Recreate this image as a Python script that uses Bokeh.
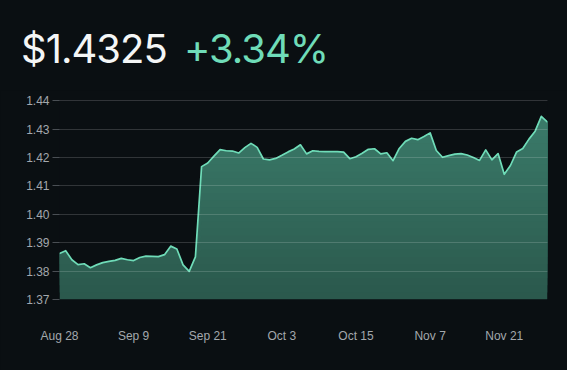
import numpy as np
from bokeh.plotting import figure
from bokeh.layouts import column
from bokeh.models import FixedTicker, Range1d, CustomJSTickFormatter, Div
from bokeh.embed import file_html
from bokeh.resources import INLINE

# ---- data ----
prices = [
    1.3862, 1.3872, 1.3840, 1.3823, 1.3826, 1.3812, 1.3822, 1.3830, 1.3834, 1.3838,
    1.3845, 1.3840, 1.3837, 1.3848, 1.3853, 1.3852, 1.3851, 1.3858, 1.3888, 1.3878,
    1.3822, 1.3799, 1.3850, 1.4168, 1.4181, 1.4205, 1.4228, 1.4224, 1.4223, 1.4216,
    1.4235, 1.4250, 1.4236, 1.4195, 1.4192, 1.4197, 1.4208, 1.4220, 1.4230, 1.4245,
    1.4213, 1.4224, 1.4222, 1.4221, 1.4221, 1.4221, 1.4219, 1.4196, 1.4203, 1.4215,
    1.4229, 1.4231, 1.4213, 1.4217, 1.4189, 1.4232, 1.4257, 1.4268, 1.4263, 1.4274,
    1.4287, 1.4225, 1.4201, 1.4207, 1.4212, 1.4214, 1.4209, 1.4200, 1.4190, 1.4227,
    1.4192, 1.4214, 1.4141, 1.4172, 1.4220, 1.4232, 1.4265, 1.4293, 1.4345, 1.4325,
]
tick_positions = [0, 12, 24, 36, 48, 60, 72]
tick_labels = ["Aug 28", "Sep 9", "Sep 21", "Oct 3", "Oct 15", "Nov 7", "Nov 21"]
y_ticks = [1.37, 1.38, 1.39, 1.40, 1.41, 1.42, 1.43, 1.44]
price_text = "$1.4325"
change_text = "+3.34%"

BG = "#0a0f12"
LINE = "#6fdcb8"
GREEN_TXT = "#6fdcb8"
C_BOTTOM = np.array([0x2b, 0x59, 0x4d])
C_TOP = np.array([0x3c, 0x7d, 0x6c])

x = np.arange(len(prices))
y = np.array(prices)

W = 567
HH = 90

# ---- header ----
span_css = ("position:absolute; top:{top}px; left:{left}px; font-family:'Inter'; "
            "font-size:40px; line-height:40px; letter-spacing:-1px; color:{color}; "
            "white-space:nowrap;")
header_html = (
    '<div style="position:relative; width:%dpx; height:%dpx; background:%s;">' % (W, HH, BG)
    + '<span style="%s">%s</span>' % (span_css.format(top=29, left=21, color="#f4f6f6"), price_text)
    + '<span style="%s">%s</span>' % (span_css.format(top=29, left=184, color=GREEN_TXT), change_text)
    + '</div>'
)
header = Div(text=header_html, width=W, height=HH, margin=0,
             styles={"background-color": BG})

# ---- main chart ----
p = figure(width=W, height=370 - HH, output_backend="svg", toolbar_location=None,
           tools="", x_range=Range1d(0, len(prices) - 1),
           y_range=Range1d(1.37, 1.4401),
           min_border_left=59, min_border_right=20,
           min_border_top=10, min_border_bottom=71, margin=0)
p.background_fill_color = BG
p.border_fill_color = BG
p.outline_line_color = None

# gradient fill via overlapping horizontal bands (each drawn from its level up to the curve)
levels = np.linspace(1.37, 1.44, 29)
nb = len(levels) - 1
for j in range(nb):
    t = j / (nb - 1)
    c = (C_BOTTOM + (C_TOP - C_BOTTOM) * t).astype(int)
    col = "#%02x%02x%02x" % tuple(c)
    p.varea(x=x, y1=np.minimum(y, levels[j]), y2=y,
            fill_color=col, fill_alpha=1.0)

p.line(x, y, line_color=LINE, line_width=1.7, line_join="round")

# grid
p.xgrid.visible = False
p.ygrid.grid_line_color = "#ffffff"
p.ygrid.grid_line_alpha = 0.16
p.ygrid.level = "overlay"
p.ygrid.ticker = FixedTicker(ticks=y_ticks)

# y axis
p.yaxis.ticker = FixedTicker(ticks=y_ticks)
p.yaxis.formatter = CustomJSTickFormatter(code="return tick.toFixed(2);")
p.yaxis.axis_line_color = None
p.yaxis.major_tick_line_color = "#4a4f54"
p.yaxis.major_tick_in = 0
p.yaxis.major_tick_out = 7
p.yaxis.minor_tick_line_color = None
p.yaxis.major_label_standoff = 3
p.yaxis.major_label_text_color = "#a3a8ad"
p.yaxis.major_label_text_font = "Liberation Sans"
p.yaxis.major_label_text_font_size = "12px"

# x axis
p.xaxis.ticker = FixedTicker(ticks=tick_positions)
p.xaxis.major_label_overrides = {tp: lb for tp, lb in zip(tick_positions, tick_labels)}
p.xaxis.axis_line_color = None
p.xaxis.major_tick_line_color = None
p.xaxis.major_tick_in = 0
p.xaxis.major_tick_out = 0
p.xaxis.minor_tick_line_color = None
p.xaxis.major_label_standoff = 29
p.xaxis.major_label_text_color = "#a3a8ad"
p.xaxis.major_label_text_font = "Liberation Sans"
p.xaxis.major_label_text_font_size = "12px"

layout = column(header, p, spacing=0, margin=0, styles={"background-color": BG})
open("out.html", "w").write(file_html(layout, INLINE))
